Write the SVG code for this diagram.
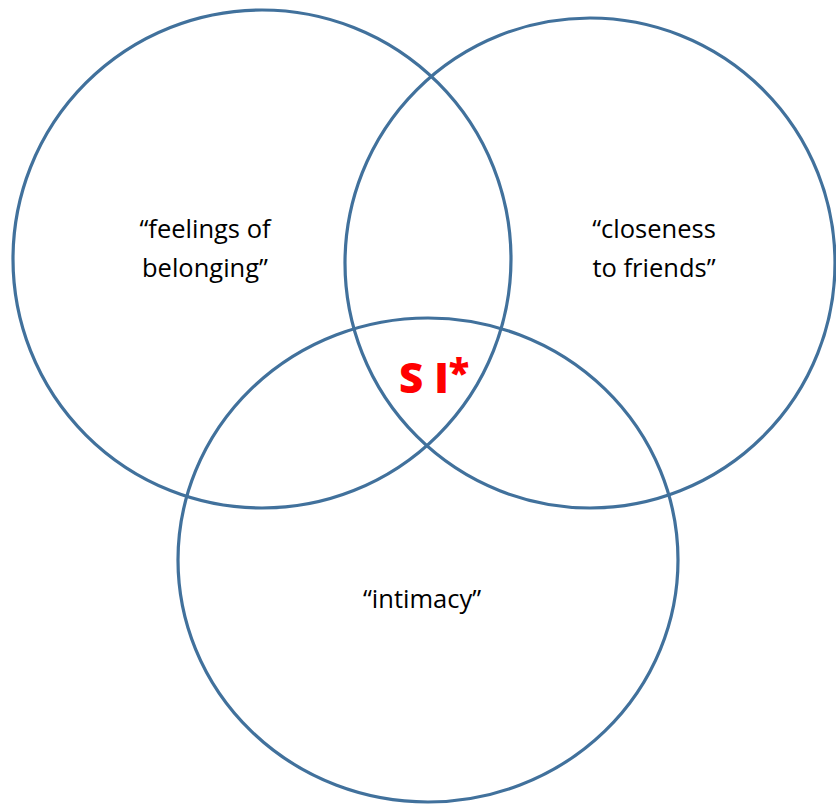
<svg xmlns="http://www.w3.org/2000/svg" width="836" height="805" viewBox="0 0 836 805">
<style>
.c{fill:none;stroke:#41719C;stroke-width:3.2}
.t{font-family:"Open Sans","Liberation Sans",sans-serif;font-size:25.5px;fill:#000;text-anchor:middle}
.si{font-family:"Open Sans","Liberation Sans",sans-serif;font-weight:800;font-size:42px;fill:#FF0000}
</style>
<rect width="836" height="805" fill="#fff"/>
<g id="belonging">
<circle class="c" cx="262" cy="259" r="249"/>
<text class="t" x="205" y="238">“feelings of</text>
<text class="t" x="205" y="277">belonging”</text>
</g>
<g id="closeness">
<circle class="c" cx="590" cy="263" r="245"/>
<text class="t" x="654" y="238">“closeness</text>
<text class="t" x="654" y="277">to friends”</text>
</g>
<g id="intimacy">
<ellipse class="c" cx="428" cy="560" rx="250" ry="242"/>
<text class="t" x="422" y="608">“intimacy”</text>
</g>
<g id="si">
<text class="si" x="399" y="393">S I<tspan dy="-6" font-size="38">*</tspan></text>
</g>
<g id="connectors"/>
</svg>
